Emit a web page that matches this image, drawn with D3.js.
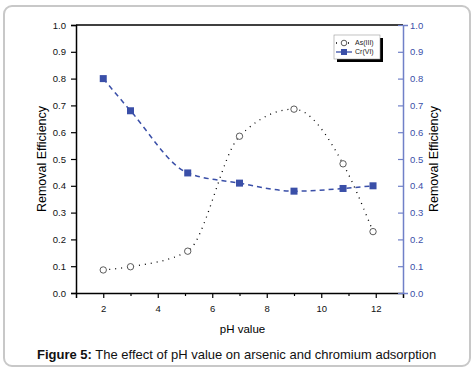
<!DOCTYPE html>
<html>
<head>
<meta charset="utf-8">
<script src="https://cdn.jsdelivr.net/npm/d3@7"></script>
<style>
  html, body { margin: 0; padding: 0; background: #fff; overflow: hidden; }
  svg { display: block; }
  svg text { font-family: "Liberation Sans", Arial, sans-serif; }
</style>
</head>
<body>
<svg id="chart"></svg>
<script>
var phValues = [2, 3, 5.1, 7, 9, 10.8, 11.9],
    asValues = [0.086, 0.098, 0.156, 0.585, 0.686, 0.482, 0.229],
    crValues = [0.80, 0.68, 0.448, 0.41, 0.38, 0.39, 0.40],
    xTicks = [2, 4, 6, 8, 10, 12],
    xMinor = [3, 5, 7, 9, 11],
    yTicks = [0, 0.1, 0.2, 0.3, 0.4, 0.5, 0.6, 0.7, 0.8, 0.9, 1.0];

var width = 475, height = 371,
    margin = {top: 25, right: 72, bottom: 78, left: 76},
    innerWidth = width - margin.left - margin.right,
    innerHeight = height - margin.top - margin.bottom,
    blue = "#3a4fa8",
    axisBlue = "#7080c8";

var xScale = d3.scaleLinear().domain([1, 13]).range([0, innerWidth]),
    yScale = d3.scaleLinear().domain([0, 1]).range([innerHeight, 0]);

var svg = d3.select("#chart")
    .attr("width", width)
    .attr("height", height);

// outer frame (stroke only)
svg.append("rect")
    .attr("x", 4).attr("y", 6)
    .attr("width", 466).attr("height", 360)
    .attr("rx", 8)
    .attr("fill", "none")
    .attr("stroke", "#c8c8c8")
    .attr("stroke-width", 2);

var g = svg.append("g")
    .attr("transform", "translate(" + margin.left + "," + margin.top + ")");

// top border
g.append("line")
    .attr("x1", 0).attr("x2", innerWidth)
    .attr("y1", 0).attr("y2", 0)
    .attr("stroke", "#000").attr("stroke-width", 1.5);

// x axis
var xAxis = g.append("g")
    .attr("transform", "translate(0," + innerHeight + ")")
    .call(d3.axisBottom(xScale).tickValues(xTicks).tickSize(5).tickPadding(7).tickFormat(d3.format("d")));
g.append("g")
    .attr("transform", "translate(0," + innerHeight + ")")
    .call(d3.axisBottom(xScale).tickValues(xMinor).tickSize(3).tickFormat(""))
    .select(".domain").remove();
g.selectAll(".tick line").attr("stroke", "#000").attr("stroke-width", 1.2);
xAxis.select(".domain").attr("stroke", "#000").attr("stroke-width", 1.5);
xAxis.attr("font-family", null).attr("font-size", 9.5);
xAxis.selectAll("text").attr("fill", "#111");

// left y axis
var yLeft = g.append("g")
    .call(d3.axisLeft(yScale).tickValues(yTicks).tickSize(5).tickPadding(5).tickFormat(d3.format(".1f")));
yLeft.select(".domain").attr("stroke", "#000").attr("stroke-width", 1.5);
yLeft.selectAll(".tick line").attr("stroke", "#000").attr("stroke-width", 1.2);
yLeft.attr("font-family", null).attr("font-size", 9.5);
yLeft.selectAll("text").attr("fill", "#111");

// right y axis
var yRight = g.append("g")
    .attr("transform", "translate(" + innerWidth + ",0)")
    .call(d3.axisRight(yScale).tickValues(yTicks).tickSize(5).tickPadding(5).tickFormat(d3.format(".1f")));
yRight.select(".domain").attr("stroke", axisBlue).attr("stroke-width", 1.5);
yRight.selectAll(".tick line").attr("stroke", axisBlue).attr("stroke-width", 1.2).attr("x1", -5).attr("x2", 0);
yRight.attr("font-family", null).attr("font-size", 9.5);
yRight.selectAll("text").attr("fill", blue).attr("x", 7);

// axis titles
g.append("text")
    .attr("transform", "rotate(-90)")
    .attr("x", -innerHeight / 2).attr("y", -30)
    .attr("text-anchor", "middle")
    .attr("font-size", 12.5)
    .text("Removal Efficiency");

g.append("text")
    .attr("transform", "translate(" + (innerWidth + 31) + "," + (innerHeight / 2) + ") rotate(-90)")
    .attr("text-anchor", "middle")
    .attr("dy", "0.35em")
    .attr("font-size", 12.5)
    .text("Removal Efficiency");

g.append("text")
    .attr("x", innerWidth / 2 + 3).attr("y", innerHeight + 40)
    .attr("text-anchor", "middle")
    .attr("font-size", 11.5)
    .text("pH value");

// series
var asData = phValues.map(function(d, i) { return {x: d, y: asValues[i]}; }),
    crData = phValues.map(function(d, i) { return {x: d, y: crValues[i]}; });

var line = d3.line()
    .x(function(d) { return xScale(d.x); })
    .y(function(d) { return yScale(d.y); })
    .curve(d3.curveMonotoneX);

g.append("path")
    .datum(crData)
    .attr("d", line)
    .attr("fill", "none")
    .attr("stroke", blue)
    .attr("stroke-width", 1.5)
    .attr("stroke-dasharray", "5,4");

g.append("path")
    .datum(asData)
    .attr("d", line)
    .attr("fill", "none")
    .attr("stroke", "#000")
    .attr("stroke-width", 1.3)
    .attr("stroke-dasharray", "1,5");

g.selectAll(".cr")
    .data(crData).enter()
    .append("rect")
      .attr("class", "cr")
      .attr("x", function(d) { return xScale(d.x) - 3.5; })
      .attr("y", function(d) { return yScale(d.y) - 3.5; })
      .attr("width", 7).attr("height", 7)
      .attr("fill", blue);

g.selectAll(".as")
    .data(asData).enter()
    .append("circle")
      .attr("class", "as")
      .attr("cx", function(d) { return xScale(d.x); })
      .attr("cy", function(d) { return yScale(d.y); })
      .attr("r", 3.2)
      .attr("fill", "#fff")
      .attr("stroke", "#333")
      .attr("stroke-width", 0.8);

// legend
var legend = g.append("g").attr("transform", "translate(" + (innerWidth - 69) + ",10)");
legend.append("rect")
    .attr("x", 3).attr("y", 3).attr("width", 46).attr("height", 24)
    .attr("fill", "#000");
legend.append("rect")
    .attr("x", 0).attr("y", 0).attr("width", 46).attr("height", 24)
    .attr("fill", "#fff")
    .attr("stroke", "#999").attr("stroke-width", 0.6);

legend.append("line")
    .attr("x1", 2).attr("x2", 18).attr("y1", 8).attr("y2", 8)
    .attr("stroke", "#000").attr("stroke-dasharray", "1,5").attr("stroke-width", 1.3);
legend.append("circle")
    .attr("cx", 10).attr("cy", 8).attr("r", 2.8)
    .attr("fill", "#fff").attr("stroke", "#333").attr("stroke-width", 0.8);
legend.append("line")
    .attr("x1", 2).attr("x2", 18).attr("y1", 17).attr("y2", 17)
    .attr("stroke", blue).attr("stroke-width", 1.3);
legend.append("rect")
    .attr("x", 7).attr("y", 14).attr("width", 6).attr("height", 6)
    .attr("fill", blue);
legend.selectAll("text.leg")
    .data(["As(III)", "Cr(VI)"]).enter()
    .append("text")
      .attr("x", 21)
      .attr("y", function(d, i) { return 8 + i * 9; })
      .attr("dy", "0.35em")
      .attr("font-size", 7)
      .attr("fill", "#222")
      .text(function(d) { return d; });

// caption
var caption = svg.append("text")
    .attr("x", 37).attr("y", 359)
    .attr("font-size", 13)
    .attr("fill", "#111");
caption.append("tspan").attr("font-weight", "bold").text("Figure 5:");
caption.append("tspan").text(" The effect of pH value on arsenic and chromium adsorption");
</script>
</body>
</html>
